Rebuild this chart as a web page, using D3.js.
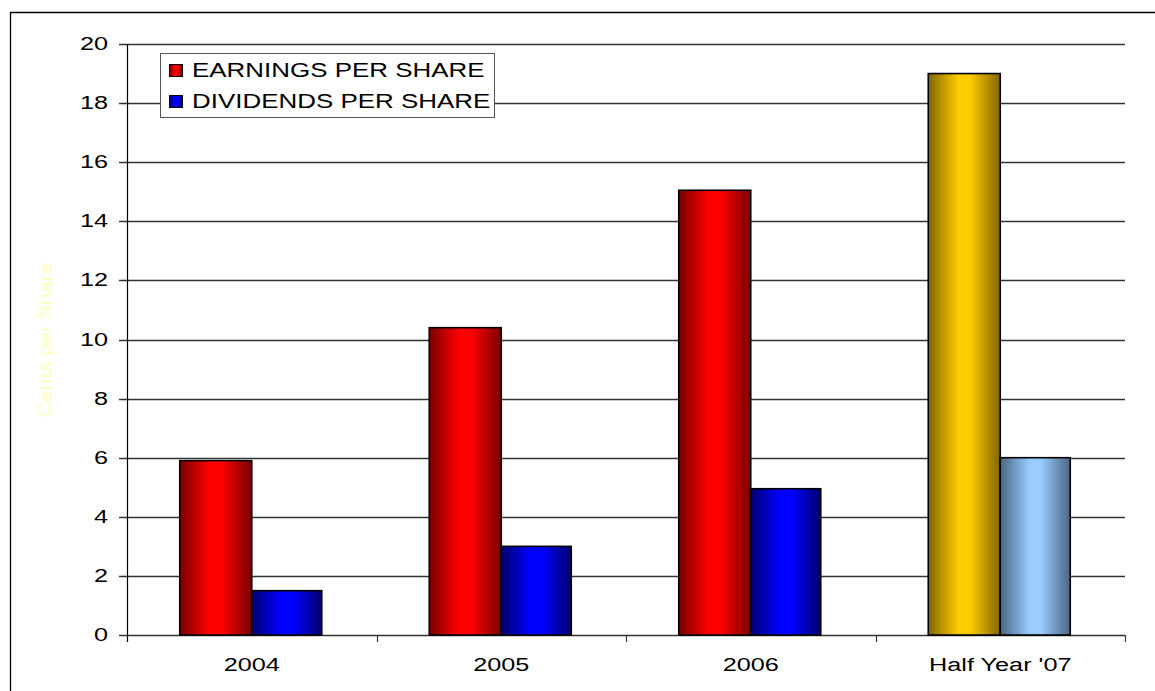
<!DOCTYPE html>
<html lang="en">
<head>
    <meta charset="UTF-8" />
    <title>Earnings and Dividends per Share</title>
    <style>
        body { margin: 0; background: #ffffff; }
        svg { display: block; font-family: "Liberation Sans", Arial, sans-serif; }
        .grid line { stroke: #333333; stroke-width: 1.3px; }
        .tick-label { font-size: 19px; fill: #000000; }
        .legend-label { font-size: 19.5px; fill: #000000; }
    </style>
</head>
<body>
    <div id="chart"></div>

    <script src="https://d3js.org/d3.v7.min.js"></script>
    <script>
        // data
        const categories = ['2004', '2005', '2006', "Half Year '07"];
        const earnings = [5.9, 10.4, 15.05, 19.0];
        const dividends = [1.5, 3.0, 4.95, 6.0];
        const yTicks = [0, 2, 4, 6, 8, 10, 12, 14, 16, 18, 20];
        const seriesNames = ['EARNINGS PER SHARE', 'DIVIDENDS PER SHARE'];

        const width = 1155, height = 691;
        const plot = { left: 127, right: 1125, top: 44, bottom: 635 };
        const stretch = 1.33; // the original text is drawn wide

        const svg = d3.select('#chart').append('svg')
            .attr('width', width)
            .attr('height', height);

        // gradients: dark edges, bright middle
        const defs = svg.append('defs');
        const gradients = [
            { id: 'red', dark: '#7a0000', light: '#ff0000' },
            { id: 'blue', dark: '#000070', light: '#0000ff' },
            { id: 'gold', dark: '#806600', light: '#ffcc00' },
            { id: 'sky', dark: '#4a6684', light: '#99ccff' }
        ];
        gradients.forEach(g => {
            const lg = defs.append('linearGradient')
                .attr('id', 'grad-' + g.id)
                .attr('x1', '0%').attr('x2', '100%')
                .attr('y1', '0%').attr('y2', '0%');
            lg.append('stop').attr('offset', '0%').attr('stop-color', g.dark);
            lg.append('stop').attr('offset', '42%').attr('stop-color', g.light);
            lg.append('stop').attr('offset', '58%').attr('stop-color', g.light);
            lg.append('stop').attr('offset', '100%').attr('stop-color', g.dark);
        });

        // outer frame (runs off the right and bottom)
        svg.append('path')
            .attr('d', `M10.5,${height + 2} L10.5,12.5 L${width + 2},12.5`)
            .attr('fill', 'none')
            .attr('stroke', '#000')
            .attr('stroke-width', 1.3);

        const x = d3.scaleBand()
            .domain(categories)
            .range([plot.left, plot.right]);

        const y = d3.scaleLinear()
            .domain([0, 20])
            .range([plot.bottom, plot.top]);

        const barW = 72;

        // gridlines
        svg.append('g').attr('class', 'grid')
            .selectAll('line')
            .data(yTicks)
            .enter().append('line')
            .attr('x1', plot.left - 8)
            .attr('x2', plot.right)
            .attr('y1', d => Math.round(y(d)) + 0.5)
            .attr('y2', d => Math.round(y(d)) + 0.5);

        // y tick labels
        svg.append('g')
            .selectAll('text')
            .data(yTicks)
            .enter().append('text')
            .attr('class', 'tick-label')
            .attr('transform', d => `translate(108,${y(d) + 6}) scale(${stretch},1)`)
            .attr('text-anchor', 'end')
            .text(d => d);

        // y axis line
        svg.append('line')
            .attr('x1', plot.left + 0.5).attr('x2', plot.left + 0.5)
            .attr('y1', plot.top).attr('y2', plot.bottom + 7)
            .attr('stroke', '#000').attr('stroke-width', 1.2);

        // x category tick marks
        const bounds = categories.map(c => x(c)).concat([plot.right]);
        svg.append('g')
            .selectAll('line')
            .data(bounds.slice(1))
            .enter().append('line')
            .attr('x1', d => Math.round(d) + 0.5)
            .attr('x2', d => Math.round(d) + 0.5)
            .attr('y1', plot.bottom)
            .attr('y2', plot.bottom + 7)
            .attr('stroke', '#333').attr('stroke-width', 1.2);

        // x labels
        svg.append('g')
            .selectAll('text')
            .data(categories)
            .enter().append('text')
            .attr('class', 'tick-label')
            .attr('transform', d => `translate(${x(d) + x.bandwidth() / 2},671) scale(${stretch},1)`)
            .attr('text-anchor', 'middle')
            .text(d => d);

        // bars
        const earnFill = (d, i) => i === 3 ? 'url(#grad-gold)' : 'url(#grad-red)';
        const divFill = (d, i) => i === 3 ? 'url(#grad-sky)' : 'url(#grad-blue)';

        svg.append('g')
            .selectAll('rect')
            .data(earnings)
            .enter().append('rect')
            .attr('x', (d, i) => x(categories[i]) + x.bandwidth() / 2 - barW)
            .attr('y', d => y(d))
            .attr('width', barW)
            .attr('height', d => y(0) - y(d))
            .attr('fill', earnFill)
            .attr('stroke', '#000')
            .attr('stroke-width', 1.6);

        svg.append('g')
            .selectAll('rect')
            .data(dividends)
            .enter().append('rect')
            .attr('x', (d, i) => x(categories[i]) + x.bandwidth() / 2)
            .attr('y', d => y(d))
            .attr('width', barW - 2)
            .attr('height', d => y(0) - y(d))
            .attr('fill', divFill)
            .attr('stroke', '#000')
            .attr('stroke-width', 1.6);

        // y axis title, pale yellow
        svg.append('text')
            .attr('transform', 'translate(52,340) rotate(-90) scale(1.22,1)')
            .attr('text-anchor', 'middle')
            .attr('font-size', 17.5)
            .attr('fill', '#ffffc0')
            .text('Cents per Share');

        // legend
        const legend = svg.append('g');
        legend.append('rect')
            .attr('x', 160.5).attr('y', 53.5)
            .attr('width', 334).attr('height', 64)
            .attr('fill', '#fff')
            .attr('stroke', '#555')
            .attr('stroke-width', 1);

        const swatches = ['url(#grad-red)', 'url(#grad-blue)'];
        seriesNames.forEach((name, i) => {
            const yy = 70 + i * 31;
            legend.append('rect')
                .attr('x', 169.5).attr('y', yy - 5.5)
                .attr('width', 13).attr('height', 12)
                .attr('fill', swatches[i])
                .attr('stroke', '#000');
            legend.append('text')
                .attr('class', 'legend-label')
                .attr('transform', `translate(192,${yy + 7}) scale(${stretch},1)`)
                .text(name);
        });
    </script>
</body>
</html>
